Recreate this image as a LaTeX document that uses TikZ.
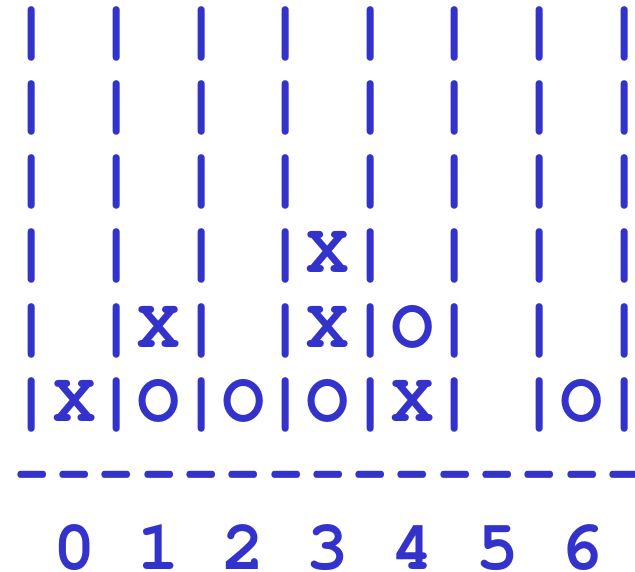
\documentclass[tikz,border=0pt]{standalone}
\usepackage[T1]{fontenc}
\usepackage{graphicx}
\definecolor{boardblue}{RGB}{51,51,204}
\newcommand{\boardfont}{\fontencoding{T1}\fontfamily{pcr}\fontseries{b}\fontshape{n}\fontsize{70.5pt}{74pt}\selectfont}
\newcommand{\hy}{\makebox[0.6em]{\scalebox{0.79}[1]{-}}}
\tikzset{
  rowtext/.style={anchor=base west, inner sep=0pt, outer sep=0pt, text=boardblue, font=\boardfont}
}
\begin{document}
\begin{tikzpicture}[x=1pt,y=-1pt]
\useasboundingbox (0,0) rectangle (635,572);
\node[rowtext] (r1) at (10.85,51) {| | | | | | | |};
\node[rowtext] (r2) at (10.85,125) {| | | | | | | |};
\node[rowtext] (r3) at (10.85,199) {| | | | | | | |};
\node[rowtext] (r4) at (10.85,273) {| | | |X| | | |};
\node[rowtext] (r5) at (10.85,347) {| |X| |X|O| | |};
\node[rowtext] (r6) at (10.85,421) {|X|O|O|O|X| |O|};
\node[rowtext] (dash) at (10.85,494) {\hy\hy\hy\hy\hy\hy\hy\hy\hy\hy\hy\hy\hy\hy\hy};
\node[rowtext] (nums) at (53.15,569) {0 1 2 3 4 5 6};
\end{tikzpicture}
\end{document}
